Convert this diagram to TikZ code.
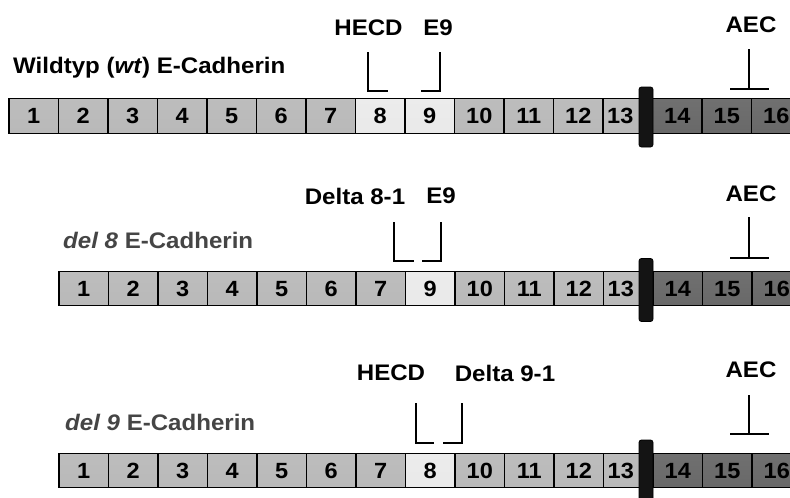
\documentclass[tikz,border=0pt]{standalone}
\usepackage{fontspec}
\setmainfont{Liberation Sans}
\usepackage{graphicx}
\definecolor{labgray}{HTML}{454545}
\newcommand\widetxt[1]{\scalebox{1.07}[1]{#1}}
% cell number, optionally moved left by half of #2 (pt) out from under the membrane
\newcommand\cellnum[2]{\makebox[0pt][c]{\widetxt{#1}\hspace*{#2pt}}}
\tikzset{
  cell/.style={draw=black, line width=1.2pt, rectangle, minimum width=49.5pt,
    minimum height=34.5pt, inner sep=0pt, text height=15.8pt, text depth=0pt,
    font=\fontsize{22}{24}\selectfont\bfseries},
  cellmid/.style={top color=gray!52!white, middle color=gray!14!white, bottom color=gray!55!white},
  cellpale/.style={top color=gray!15!white, middle color=gray!3!white, bottom color=gray!17!white},
  celldark/.style={top color=gray!88!black, middle color=gray!78!white, bottom color=gray!82!black},
  membrane/.style={draw=black, line width=0.8pt, rounded corners=2.5pt,
    minimum width=14pt, minimum height=60pt, inner sep=0pt,
    left color=black!92, middle color=black!55, right color=black!92},
  lab/.style={font=\fontsize{22.5}{24}\selectfont\bfseries, inner sep=0pt},
  tick/.style={line width=1.4pt, line cap=rect}
}
\begin{document}
\begin{tikzpicture}[x=1pt, y=-1pt]
\useasboundingbox (0,0) rectangle (790,498);

% ---------- wild type ----------
\foreach \lab/\sty/\dx [count=\i] in {1/cellmid/0,2/cellmid/0,3/cellmid/0,4/cellmid/0,5/cellmid/0,
    6/cellmid/0,7/cellmid/0,8/cellpale/0,9/cellpale/0,10/cellmid/0,11/cellmid/0,12/cellmid/0,
    13/cellmid/15,14/celldark/0,15/celldark/0,16/celldark/0}
  \node[cell,\sty] (w\i) at ({9+(\i-0.5)*49.5},116) {\cellnum{\lab}{\dx}};
\node[membrane] (wm) at (646,117) {};

\node[lab, anchor=west] (wt) at (13,68) {\widetxt{Wildtyp (\textit{wt}) E-Cadherin}};
\node[lab] (whecd) at (368.5,28) {\widetxt{HECD}};
\node[lab] (we9) at (438,28) {\widetxt{E9}};
\node[lab] (waec) at (751,25) {\widetxt{AEC}};

\coordinate (wh) at (368,53);
\coordinate (we) at (440,53);
\coordinate (wa) at (749,50);
\draw[tick] (wh) -- ++(0,38) -- ++(19,0);
\draw[tick] (we) -- ++(0,38) -- ++(-18.5,0);
\draw[tick] (wa) -- ++(0,39) ++(-18,0) -- ++(37,0);

% ---------- del 8 ----------
\foreach \lab/\sty/\dx [count=\i] in {1/cellmid/0,2/cellmid/0,3/cellmid/0,4/cellmid/0,5/cellmid/0,
    6/cellmid/0,7/cellmid/0,9/cellpale/0,10/cellmid/0,11/cellmid/0,12/cellmid/0,
    13/cellmid/15,14/celldark/0,15/celldark/0,16/celldark/0}
  \node[cell,\sty] (a\i) at ({59+(\i-0.5)*49.5},288.5) {\cellnum{\lab}{\dx}};
\node[membrane, minimum height=63pt] (am) at (646,290) {};

\node[lab, anchor=west, text=labgray] (d8) at (63,240) {\widetxt{\textit{del 8} E-Cadherin}};
\node[lab] (adelta) at (355,196) {\widetxt{Delta 8-1}};
\node[lab] (ae9) at (441,196) {\widetxt{E9}};
\node[lab] (aaec) at (751,194) {\widetxt{AEC}};

\coordinate (ad) at (394,223);
\coordinate (ae) at (441,223);
\coordinate (aa) at (749,218);
\draw[tick] (ad) -- ++(0,38) -- ++(19,0);
\draw[tick] (ae) -- ++(0,38) -- ++(-18,0);
\draw[tick] (aa) -- ++(0,40) ++(-18,0) -- ++(37,0);

% ---------- del 9 ----------
\foreach \lab/\sty/\dx [count=\i] in {1/cellmid/0,2/cellmid/0,3/cellmid/0,4/cellmid/0,5/cellmid/0,
    6/cellmid/0,7/cellmid/0,8/cellpale/0,10/cellmid/0,11/cellmid/0,12/cellmid/0,
    13/cellmid/15,14/celldark/0,15/celldark/0,16/celldark/0}
  \node[cell,\sty] (b\i) at ({59+(\i-0.5)*49.5},470.5) {\cellnum{\lab}{\dx}};
\node[membrane, minimum height=64pt] (bm) at (646,472) {};

\node[lab, anchor=west, text=labgray] (d9) at (65,422.5) {\widetxt{\textit{del 9} E-Cadherin}};
\node[lab] (bhecd) at (391,373) {\widetxt{HECD}};
\node[lab] (bdelta) at (505,373) {\widetxt{Delta 9-1}};
\node[lab] (baec) at (751,370) {\widetxt{AEC}};

\coordinate (bh) at (416,404);
\coordinate (bd) at (462,404);
\coordinate (ba) at (749,396);
\draw[tick] (bh) -- ++(0,39) -- ++(17,0);
\draw[tick] (bd) -- ++(0,39) -- ++(-18,0);
\draw[tick] (ba) -- ++(0,38) ++(-18,0) -- ++(37,0);
\end{tikzpicture}
\end{document}
